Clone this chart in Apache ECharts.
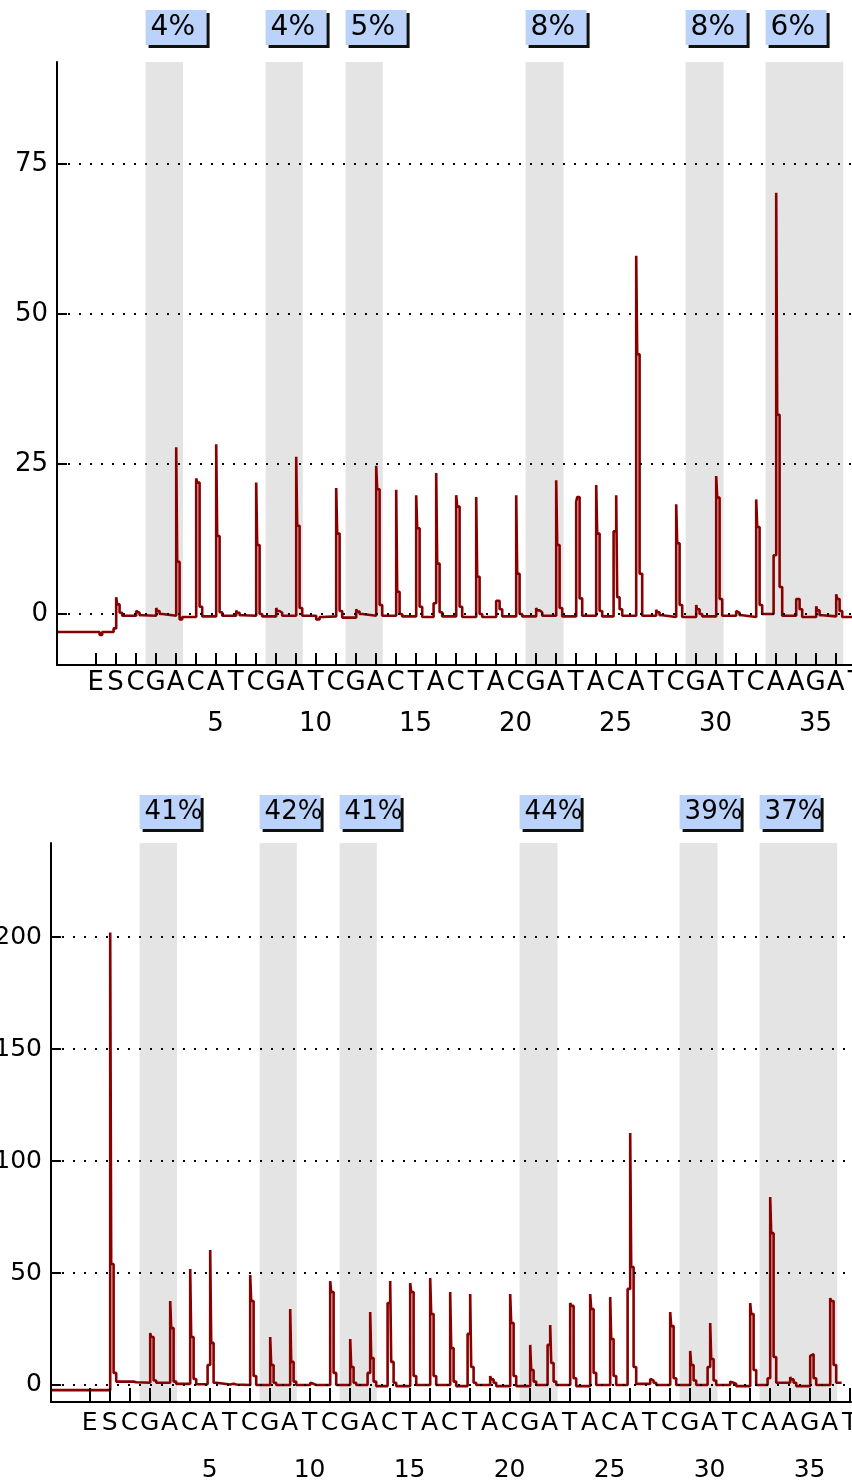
<!DOCTYPE html>
<html>
<head>
<meta charset="utf-8">
<script src="https://cdn.jsdelivr.net/npm/echarts@6/dist/echarts.min.js"></script>
<style>
html,body{margin:0;padding:0;background:#fff;}
#c{width:852px;height:1484px;}
</style>
</head>
<body>
<div id="c"></div>
<script>
// Dispensation order (index 0 = position -1 "E", index 1 = position 0 "S")
const dispensations = ['E','S','C','G','A','C','A','T','C','G','A','T','C','G','A','C','T','A','C','T','A','C','G','A','T','A','C','A','T','C','G','A','T','C','A','A','G','A','T'];
const positionLabels = [5,10,15,20,25,30,35];

// Highlighted (variable) regions, in dispensation-position units
const bandStart = [1.5, 7.5, 11.5, 20.5, 28.5, 32.5];
const bandEnd   = [3.37, 9.36, 13.36, 22.4, 30.4, 36.38];
const topPercent    = ['4%','4%','5%','8%','8%','6%'];
const bottomPercent = ['41%','42%','41%','44%','39%','37%'];

// y-axis tick labels
const topYTicks = [0, 25, 50, 75];
const bottomYTicks = [0, 50, 100, 150, 200];

// ---- Top pyrogram: per-dispensation signal readings (E, S, 1..36)
const topStartBase = -3.0;
const topPre = [null,-2.4,null,null,null,null,null,null,null,null,null,null,null,null,null,null,null,1.8,null,null,null,null,null,null,null,null,13.8,null,null,null,null,null,null,null,9.8,null,null,null];
const topPeak = [-3.3,2.8,0.5,1.0,27.8,22.6,28.3,0.6,21.9,1.0,26.2,-0.9,21.0,0.8,24.7,20.7,19.8,23.5,19.8,19.5,2.2,19.8,1.0,22.3,18.7,21.5,19.8,59.7,0.7,18.3,1.5,23.0,0.5,19.1,70.2,2.5,1.3,3.3];
const topShoulder = [-3.0,1.6,0.2,0.5,8.7,21.9,13.0,0.2,11.5,0.5,14.7,-0.9,13.4,0.4,20.8,3.7,14.3,8.4,17.9,6.2,2.2,6.7,0.6,11.5,19.5,13.4,2.8,43.3,0.3,11.8,0.8,19.4,0.2,14.5,33.2,2.5,0.6,2.5];
const topTail = [-3.5,0.2,-0.2,0.0,-0.9,1.2,0.3,-0.2,0.0,0.2,1.0,-0.5,0.5,0.0,1.5,0.0,1.2,0.3,1.2,0.0,0.8,0.0,0.3,1.0,2.6,0.5,0.8,6.7,-0.2,1.5,0.0,2.5,-0.2,1.5,4.5,0.8,-0.2,0.5];
const topBase = [-3.0,-0.3,-0.3,-0.3,-0.5,-0.4,-0.3,-0.3,-0.4,-0.3,-0.3,-0.4,-0.6,-0.3,-0.3,-0.4,-0.5,-0.4,-0.5,-0.5,-0.4,-0.4,-0.3,-0.4,-0.3,-0.4,-0.3,-0.3,-0.5,-0.5,-0.4,-0.3,-0.5,0.0,-0.3,-0.5,-0.4,-0.5];

// ---- Bottom pyrogram
const botStartBase = -2.3;
const botPre = [null,null,null,null,null,null,8.9,null,null,null,null,null,null,null,5.4,36.6,null,null,null,22.8,null,null,null,17.9,null,null,null,42.9,null,null,null,8.0,null,null,3.0,null,null,null];
const botPeak = [-2.3,202,2.0,23.2,37.5,51.8,60.3,1.0,49.1,21.4,33.9,1.0,46.4,20.5,32.6,46.4,45.5,47.8,41.5,40.6,4.0,40.6,17.9,26.8,36.6,40.6,39.3,112.5,2.7,32.6,15.2,27.7,1.5,36.6,83.9,3.6,13.0,38.8];
const botShoulder = [-2.3,54,1.5,21.4,25.4,21.4,18.8,0.6,37.5,8.9,10.3,0.5,41.5,8.0,12.0,10.3,41.5,31.7,16.5,8.0,2.5,27.7,6.7,9.8,35.3,33.9,20.5,52.7,2.0,26.3,8.9,11.6,1.0,31.7,67.8,2.5,13.8,37.5];
const botTail = [-2.3,5.4,1.2,2.0,1.5,2.7,1.0,0.2,4.0,1.0,1.5,0.0,5.4,1.0,1.5,1.0,4.0,4.0,1.5,1.0,1.0,4.0,1.5,1.5,3.0,5.4,4.0,8.0,1.0,3.0,2.0,2.0,0.5,6.7,12.5,1.0,3.0,8.9];
const botBase = [-2.3,1.5,1.0,1.0,0.5,0.3,0.2,0.0,0.0,0.0,0.0,0.0,0.0,0.0,-0.5,-0.5,0.0,0.0,-0.5,0.0,-0.5,-0.5,0.0,0.0,-0.5,0.0,0.0,0.5,0.0,0.0,0.0,0.0,-0.5,0.0,1.0,-0.5,0.0,1.0];

const X_MIN = -2.93, X_MAX = 37.07;
const RED = '#880000';
const FONT = 'DejaVu Sans';

// Build the step-shaped trace from the per-dispensation readings
function buildTrace(pre, peak, sh, tail, base, startBase, xEnd) {
  const pts = [[X_MIN, startBase]];
  let prev = startBase;
  for (let i = 0; i < peak.length; i++) {
    const n = i - 1;
    if (pre[i] != null) {
      pts.push([n - 0.1, prev], [n - 0.1, pre[i]], [n + 0.03, pre[i]]);
    } else {
      pts.push([n + 0.03, prev]);
    }
    pts.push([n + 0.03, peak[i]], [n + 0.08, peak[i]],
             [n + 0.08, sh[i]], [n + 0.2, sh[i]],
             [n + 0.2, tail[i]], [n + 0.33, tail[i]],
             [n + 0.33, base[i]]);
    prev = base[i];
  }
  pts.push([xEnd, prev]);
  return pts;
}

const dispPositions = dispensations.map((_, i) => i - 1);

function xAxes(gridIndex, fs, letterMargin, numberMargin) {
  return [
    {
      type: 'value', gridIndex, min: X_MIN, max: X_MAX, z: 3,
      axisLine: { onZero: false, lineStyle: { color: '#000', width: 2 } },
      axisTick: { inside: true, length: gridIndex === 0 ? 12 : 14, customValues: dispPositions, lineStyle: { color: '#000', width: 2 } },
      axisLabel: { customValues: dispPositions, margin: letterMargin, color: '#000', fontFamily: FONT, fontSize: fs,
        formatter: v => dispensations[Math.round(v) + 1] || '' },
      splitLine: { show: false }
    },
    {
      type: 'value', gridIndex, min: X_MIN, max: X_MAX, position: 'bottom', z: 3,
      axisLine: { show: false }, axisTick: { show: false },
      axisLabel: { customValues: positionLabels, margin: numberMargin, color: '#000', fontFamily: FONT, fontSize: fs },
      splitLine: { show: false }
    }
  ];
}

function yAxis(gridIndex, min, max, ticks, fs) {
  return {
    type: 'value', gridIndex, min, max, z: 3,
    axisLine: { show: true, onZero: false, lineStyle: { color: '#000', width: 2 } },
    axisTick: { show: true, inside: true, length: 10, customValues: ticks, lineStyle: { color: '#000', width: 2 } },
    axisLabel: { customValues: ticks, margin: 9, color: '#000', fontFamily: FONT, fontSize: fs },
    splitLine: { show: false }
  };
}

function bandLabel(offsetY, fs, boxH) {
  return {
    show: true, position: [0, offsetY], align: 'left', verticalAlign: 'top',
    formatter: '{b}', color: '#000', fontFamily: FONT, fontSize: fs,
    backgroundColor: '#bbd2fa', width: 56, height: boxH, lineHeight: boxH, padding: [0, 0, 0, 5],
    shadowColor: '#111', shadowBlur: 0, shadowOffsetX: 3, shadowOffsetY: 3
  };
}

function traceSeries(idx, data, pct, offsetY, fs, boxH) {
  return {
    type: 'line', xAxisIndex: idx * 2, yAxisIndex: idx, data, showSymbol: false, symbol: 'none',
    animation: false, silent: true, z: 2,
    lineStyle: { color: RED, width: 2.6, join: 'bevel', cap: 'butt' },
    markArea: {
      silent: true, z: 1,
      itemStyle: { color: '#e4e4e4' },
      label: bandLabel(offsetY, fs, boxH),
      data: bandStart.map((s, i) => [{ name: pct[i], xAxis: s }, { xAxis: bandEnd[i] }])
    }
  };
}

function gridSeries(idx, ticks) {
  return {
    type: 'line', xAxisIndex: idx * 2, yAxisIndex: idx, data: [], silent: true, animation: false,
    markLine: {
      silent: true, symbol: ['none', 'none'], z: 4, animation: false,
      label: { show: false },
      lineStyle: { color: '#000', width: 2, type: [2, 9] },
      data: ticks.map(t => ({ yAxis: t }))
    }
  };
}

const chart = echarts.init(document.getElementById('c'), null, { renderer: 'canvas' });
chart.setOption({
  animation: false,
  backgroundColor: '#fff',
  grid: [
    { left: 57, top: 62, width: 800, height: 603, outerBoundsMode: 'none', containLabel: false },
    { left: 51, top: 843, width: 800, height: 559, outerBoundsMode: 'none', containLabel: false }
  ],
  xAxis: [].concat(xAxes(0, 26, 5, 46), xAxes(1, 25, 9, 56)),
  yAxis: [
    yAxis(0, -8.5, 92, topYTicks, 26),
    yAxis(1, -7.6, 242, bottomYTicks, 25)
  ],
  series: [
    traceSeries(0, buildTrace(topPre, topPeak, topShoulder, topTail, topBase, topStartBase, 37.0), topPercent, -52, 28, 35),
    gridSeries(0, topYTicks),
    traceSeries(1, buildTrace(botPre, botPeak, botShoulder, botTail, botBase, botStartBase, 36.6), bottomPercent, -48, 26, 34),
    gridSeries(1, bottomYTicks)
  ]
});
</script>
</body>
</html>
